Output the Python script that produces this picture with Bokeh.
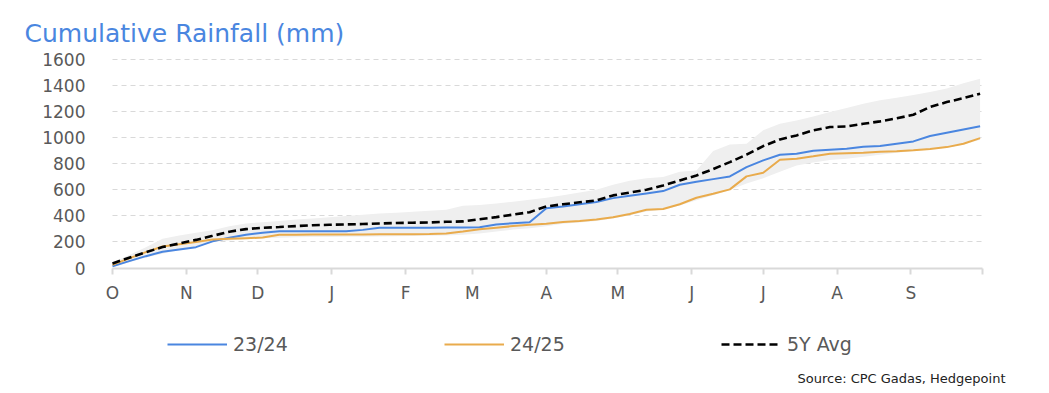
from bokeh.plotting import figure
from bokeh.models import FixedTicker, Legend, LegendItem, Label, Range1d
from bokeh.embed import file_html
from bokeh.resources import INLINE

# Day of season (Oct 1 = 0), weekly points
days = [0, 7, 14, 21, 28, 35, 42, 49, 56, 63, 70, 77, 84, 91, 98, 105, 112, 119,
        126, 133, 140, 147, 154, 161, 168, 175, 182, 189, 196, 203, 210, 217, 224,
        231, 238, 245, 252, 259, 266, 273, 280, 287, 294, 301, 308, 315, 322, 329,
        336, 343, 350, 357, 364]

s2324 = [14, 53, 91, 125, 143, 160, 205, 232, 255, 271, 282, 282, 283, 283, 283, 293,
         309, 309, 309, 310, 311, 312, 314, 335, 344, 352, 460, 472, 490, 507, 537, 555,
         573, 591, 640, 662, 683, 704, 775, 827, 870, 878, 901, 909, 917, 932, 937, 955,
         973, 1014, 1040, 1065, 1090]

s2425 = [25, 74, 122, 165, 183, 200, 219, 224, 229, 234, 255, 256, 257, 257, 258, 258,
         259, 259, 260, 262, 265, 281, 298, 310, 322, 333, 340, 353, 362, 372, 390, 415,
         448, 454, 490, 540, 570, 604, 704, 732, 832, 840, 858, 878, 882, 886, 893, 898,
         904, 915, 929, 955, 998]

avg5y = [35, 79, 121, 161, 188, 216, 247, 279, 299, 309, 315, 322, 329, 332, 335, 338,
         342, 346, 348, 350, 355, 358, 375, 391, 410, 429, 473, 490, 505, 519, 558, 580,
         601, 634, 673, 711, 760, 814, 871, 937, 988, 1019, 1058, 1083, 1088, 1108, 1127,
         1150, 1178, 1237, 1275, 1305, 1340]

band_hi = [40, 100, 160, 225, 250, 270, 290, 320, 342, 352, 362, 372, 380, 390, 400, 410,
           418, 425, 432, 440, 448, 478, 485, 495, 510, 524, 540, 560, 580, 601, 640, 670,
           690, 700, 740, 750, 900, 950, 955, 1058, 1109, 1134, 1165, 1198, 1230, 1263,
           1290, 1309, 1330, 1352, 1380, 1420, 1455]

band_lo = [10, 45, 80, 110, 140, 170, 200, 211, 220, 228, 233, 237, 238, 239, 240, 241,
           242, 244, 246, 248, 250, 255, 265, 280, 295, 305, 320, 340, 350, 362, 380, 405,
           435, 450, 480, 520, 560, 600, 650, 690, 740, 788, 810, 830, 840, 855, 870, 885,
           900, 915, 925, 950, 985]

month_ticks = [0, 31, 61, 92, 123, 151, 182, 212, 243, 273, 304, 335, 365]
month_labels = ["O", "N", "D", "J", "F", "M", "A", "M", "J", "J", "A", "S", ""]
y_ticks = [0, 200, 400, 600, 800, 1000, 1200, 1400, 1600]

BLUE = "#4a86e0"
ORANGE = "#e9ab4c"
GREY_TXT = "#595959"
FONT = "DejaVu Sans"

W, H = 1049, 393
# frame fills the whole canvas; the season (day 0..365) spans pixels 112..982,
# 0..1600 mm spans pixels 267.5..59.3 from the top
PX_DAY = 870 / 365
PX_MM = 208.2 / 1600
x_range = Range1d(-112 / PX_DAY, 365 + (W - 982) / PX_DAY)
y_range = Range1d(-(H - 267.5) / PX_MM, 267.5 / PX_MM)

p = figure(width=W, height=H, x_range=x_range, y_range=y_range, title=None,
           output_backend="svg", toolbar_location=None,
           min_border=0, min_border_left=0, min_border_right=0,
           min_border_top=0, min_border_bottom=0)
p.outline_line_color = None
p.background_fill_color = "white"
p.border_fill_color = "white"

p.varea(x=days, y1=band_lo, y2=band_hi, fill_color="#efefef", fill_alpha=1.0)
r_blue = p.line(days, s2324, line_color=BLUE, line_width=2)
r_orange = p.line(days, s2425, line_color=ORANGE, line_width=2)
r_avg = p.line(days, avg5y, line_color="black", line_width=2.6, line_dash="8 4")

# axes, pinned inside the frame
xa = p.xaxis[0]
xa.fixed_location = 0
xa.bounds = (0, 365)
xa.ticker = FixedTicker(ticks=month_ticks)
xa.major_label_overrides = {t: l for t, l in zip(month_ticks, month_labels)}
xa.axis_line_color = "#d9d9d9"
xa.axis_line_width = 2
xa.major_tick_line_color = "#d9d9d9"
xa.major_tick_line_width = 2
xa.major_tick_out = 6
xa.major_tick_in = 0
xa.minor_tick_line_color = None
xa.major_label_standoff = 9
xa.major_label_text_font = FONT
xa.major_label_text_font_size = "17px"
xa.major_label_text_color = GREY_TXT

ya = p.yaxis[0]
ya.fixed_location = 0
ya.bounds = (0, 1600)
ya.ticker = FixedTicker(ticks=y_ticks)
ya.axis_line_color = None
ya.major_tick_line_color = None
ya.minor_tick_line_color = None
ya.major_tick_out = 0
ya.major_tick_in = 0
ya.major_label_standoff = 27
ya.major_label_text_font = FONT
ya.major_label_text_font_size = "17px"
ya.major_label_text_color = GREY_TXT

p.xgrid.grid_line_color = None
p.ygrid.ticker = FixedTicker(ticks=y_ticks)
p.ygrid.grid_line_color = "#d9d9d9"
p.ygrid.grid_line_dash = "5 4"
p.ygrid.grid_line_width = 1
p.ygrid.bounds = (0, 1600)
p.ygrid.cross_bounds = (0, 365)

legend = Legend(items=[LegendItem(label="23/24", renderers=[r_blue]),
                       LegendItem(label="24/25", renderers=[r_orange]),
                       LegendItem(label="5Y Avg", renderers=[r_avg])],
                orientation="horizontal", location=(167, 38),
                glyph_width=60, glyph_height=20, label_standoff=6,
                label_width=205, spacing=6, padding=0, margin=0,
                border_line_alpha=0, background_fill_alpha=0,
                label_text_font=FONT, label_text_font_size="19px",
                label_text_color=GREY_TXT)
p.add_layout(legend, "center")

title = Label(x=24, y=H - 33, x_units="screen", y_units="screen",
              text="Cumulative Rainfall (mm)", text_font=FONT, text_font_size="25px",
              text_color=BLUE, text_baseline="alphabetic", text_align="left")
p.add_layout(title)

source = Label(x=1005, y=H - 378, x_units="screen", y_units="screen",
               text="Source: CPC Gadas, Hedgepoint", text_font=FONT,
               text_font_size="13px", text_color="#222222",
               text_baseline="alphabetic", text_align="right")
p.add_layout(source)

open("out.html", "w").write(file_html(p, INLINE))
